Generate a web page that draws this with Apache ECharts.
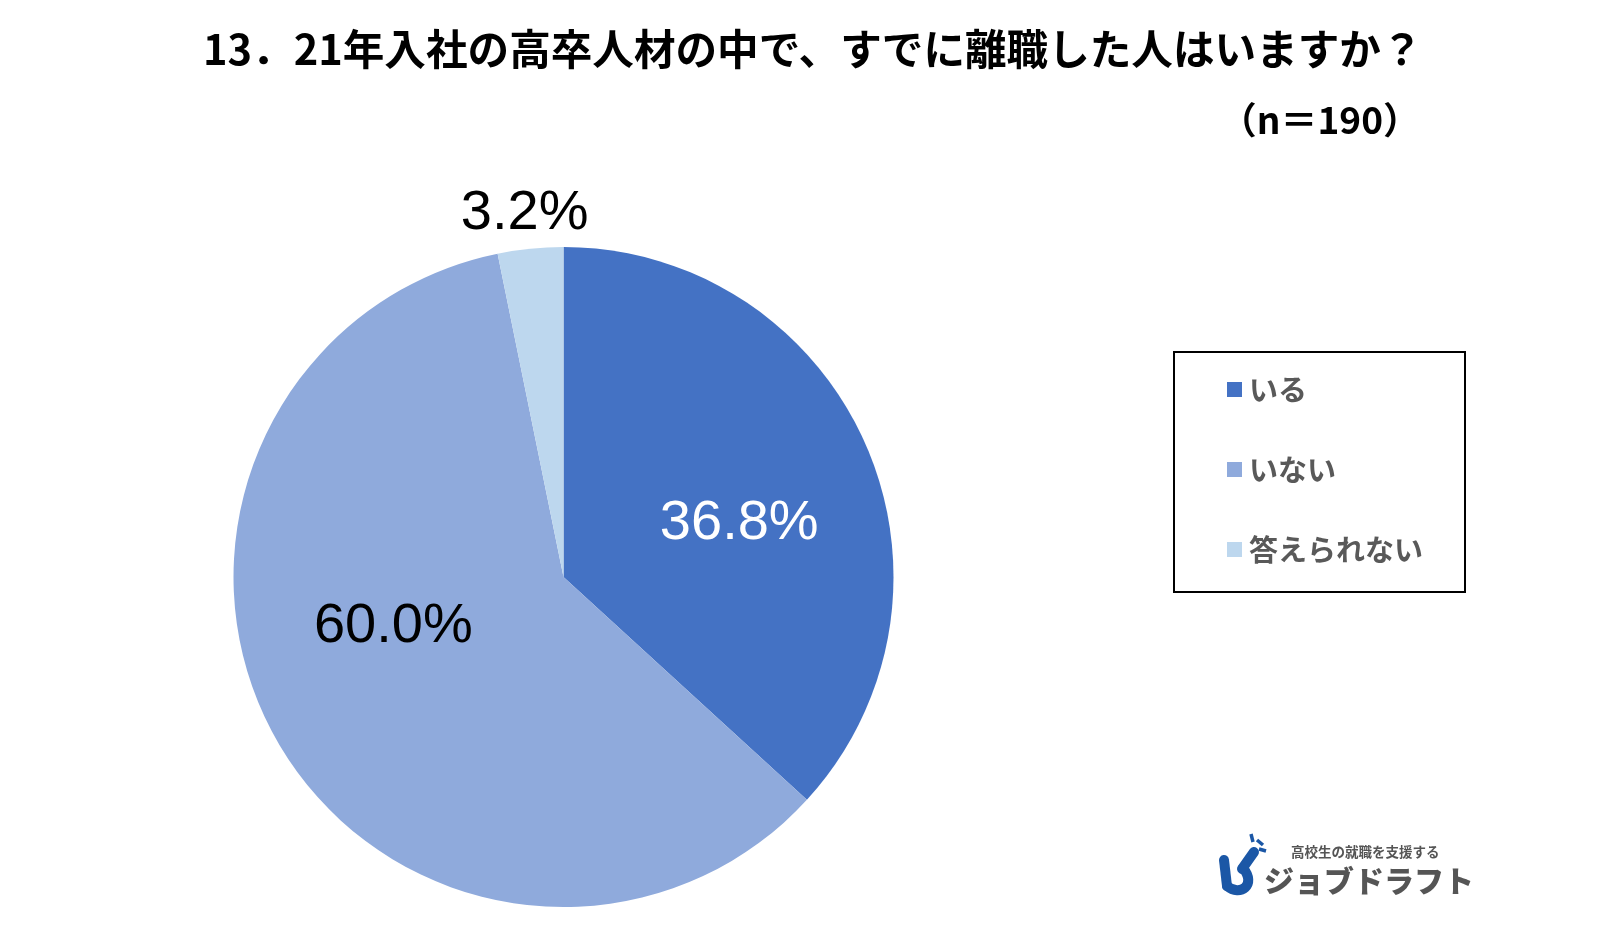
<!DOCTYPE html>
<html>
<head>
<meta charset="utf-8">
<script src="https://cdn.jsdelivr.net/npm/echarts@6/dist/echarts.min.js"></script>
<style>
html,body{margin:0;padding:0;background:#fff;}
#chart{width:1624px;height:929px;}
</style>
</head>
<body>
<div id="chart"></div>
<script>
var titleText = '13．21年入社の高卒人材の中で、すでに離職した人はいますか？';
var sampleText = '（n＝190）';
var categories = ['いる', 'いない', '答えられない'];
var values = [36.8, 60.0, 3.2];
var colors = ['#4472C4', '#8FAADC', '#BDD7EE'];
var labelColors = ['#ffffff', '#000000', '#000000'];
var labelOffsets = [[22, 14], [-24, -33], [-22, -196]];

var chart = echarts.init(document.getElementById('chart'), null, {renderer: 'canvas'});
var jp = '"Noto Sans CJK JP", "Noto Sans", sans-serif';
var logoBlue = '#1b57a6';

var option = {
  backgroundColor: '#ffffff',
  animation: false,
  title: {
    text: titleText,
    left: 203,
    top: 28,
    padding: 0,
    textStyle: {fontFamily: jp, fontSize: 41.6, fontWeight: 'bold', color: '#000'}
  },
  legend: {
    orient: 'vertical',
    left: 1227,
    top: 375,
    padding: 0,
    itemGap: 51,
    itemWidth: 15,
    itemHeight: 15,
    icon: 'rect',
    data: categories,
    textStyle: {fontFamily: jp, fontSize: 29, fontWeight: 'bold', color: '#595959', padding: [0, 0, 0, 2]}
  },
  series: [{
    type: 'pie',
    center: [563.5, 577],
    radius: 330,
    startAngle: 90,
    clockwise: true,
    avoidLabelOverlap: false,
    itemStyle: {borderWidth: 0},
    label: {
      show: true,
      position: 'inside',
      fontFamily: '"Liberation Sans", Arial, sans-serif',
      fontSize: 56,
      formatter: function (p) { return p.value.toFixed(1) + '%'; }
    },
    labelLine: {show: false},
    labelLayout: function (p) {
      var o = labelOffsets[p.dataIndex];
      return {dx: o[0], dy: o[1]};
    },
    emphasis: {disabled: true},
    data: categories.map(function (c, i) {
      return {
        name: c,
        value: values[i],
        itemStyle: {color: colors[i]},
        label: {color: labelColors[i]}
      };
    })
  }],
  graphic: [
    {
      type: 'text',
      style: {x: 1420, y: 120, text: sampleText, font: 'bold 37px ' + jp, fill: '#000', textAlign: 'right', textVerticalAlign: 'middle'}
    },
    {
      type: 'rect',
      shape: {x: 1174, y: 352, width: 291, height: 240},
      style: {fill: 'none', stroke: '#000', lineWidth: 2}
    },
    {
      type: 'polyline',
      shape: {points: [[1224, 860], [1227, 886]]},
      style: {stroke: logoBlue, lineWidth: 10, lineCap: 'round', lineJoin: 'round', fill: null}
    },
    {
      type: 'bezierCurve',
      shape: {x1: 1227, y1: 886, cpx1: 1240, cpy1: 897, cpx2: 1257, cpy2: 885, x2: 1243, y2: 868},
      style: {stroke: logoBlue, lineWidth: 10, lineCap: 'round', fill: null}
    },
    {
      type: 'polyline',
      shape: {points: [[1242, 869], [1254, 852]]},
      style: {stroke: logoBlue, lineWidth: 10, lineCap: 'round', fill: null}
    },
    {
      type: 'polyline',
      shape: {points: [[1251, 834], [1253, 842]]},
      style: {stroke: logoBlue, lineWidth: 3.5, fill: null}
    },
    {
      type: 'polyline',
      shape: {points: [[1257, 840], [1263, 845]]},
      style: {stroke: logoBlue, lineWidth: 3.5, fill: null}
    },
    {
      type: 'polyline',
      shape: {points: [[1259, 849], [1266, 851]]},
      style: {stroke: logoBlue, lineWidth: 3.5, fill: null}
    },
    {
      type: 'text',
      style: {x: 1291, y: 852, text: '高校生の就職を支援する', font: 'bold 13.5px ' + jp, fill: '#555', textVerticalAlign: 'middle'}
    },
    {
      type: 'text',
      style: {x: 1264, y: 881, text: 'ジョブドラフト', font: '900 30px ' + jp, fill: '#555', textVerticalAlign: 'middle'}
    }
  ]
};
chart.setOption(option);
</script>
</body>
</html>
